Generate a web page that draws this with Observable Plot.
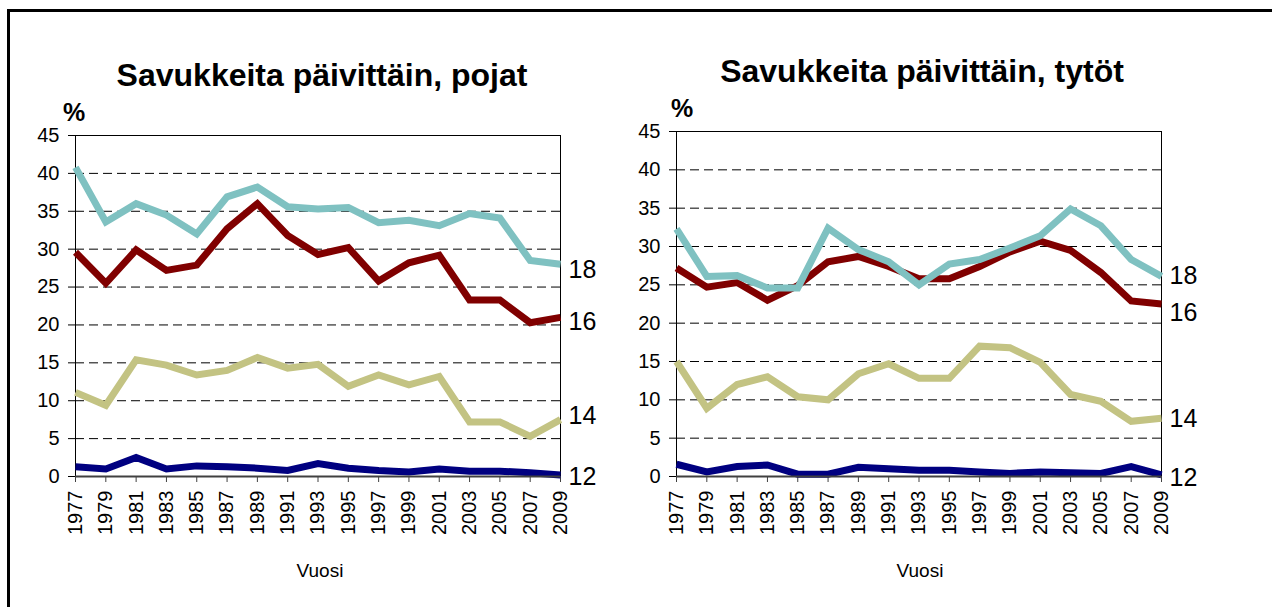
<!DOCTYPE html>
<html>
<head>
<meta charset="utf-8">
<script src="https://cdn.jsdelivr.net/npm/d3@7"></script>
<script src="https://cdn.jsdelivr.net/npm/@observablehq/plot@0.6"></script>
<style>
  html, body { margin: 0; padding: 0; background: #fff; }
  #wrap { position: relative; width: 1272px; height: 607px; overflow: hidden; background: #fff;
          font-family: Arial, "Liberation Sans", sans-serif; }
  .chart { position: absolute; top: 0; }
  .title { position: absolute; font-weight: bold; font-size: 32px; line-height: 37px; white-space: nowrap; transform: translateX(-50%); }
  .pct { position: absolute; font-weight: bold; font-size: 25px; line-height: 29px; }
  .xl { position: absolute; font-size: 19px; line-height: 22px; transform: translateX(-50%); }
  #frame { position: absolute; left: 7px; top: 9px; width: 1400px; height: 800px;
           border-left: 3px solid #000; border-top: 3px solid #000; pointer-events: none; }
</style>
</head>
<body>
<div id="wrap">
  <div id="left" class="chart" style="left:0px"></div>
  <div id="right" class="chart" style="left:600px"></div>
  <div class="title" style="left:322px; top:57px">Savukkeita päivittäin, pojat</div>
  <div class="title" style="left:922px; top:53px">Savukkeita päivittäin, tytöt</div>
  <div class="pct" style="left:63px; top:98px">%</div>
  <div class="pct" style="left:671px; top:94px">%</div>
  <div class="xl" style="left:320px; top:560px">Vuosi</div>
  <div class="xl" style="left:920px; top:560px">Vuosi</div>
  <div id="frame"></div>
</div>
<script>
const years = [1977,1979,1981,1983,1985,1987,1989,1991,1993,1995,1997,1999,2001,2003,2005,2007,2009];
const yTicks = [0,5,10,15,20,25,30,35,40,45];
const gridTicks = [5,10,15,20,25,30,35,40];
const ageLabels = ["12","14","16","18"];
const ageColors = ["#000080","#C3C383","#800000","#7FC1C1"];

// Boys (pojat)
const boys12 = [1.3,1.0,2.5,1.0,1.4,1.3,1.1,0.8,1.7,1.1,0.8,0.6,1.0,0.7,0.7,0.5,0.2];
const boys14 = [11.1,9.4,15.4,14.7,13.4,14.0,15.7,14.3,14.8,11.9,13.4,12.1,13.2,7.2,7.2,5.3,7.5];
const boys16 = [29.6,25.5,29.9,27.2,27.9,32.7,36.0,31.8,29.3,30.2,25.8,28.2,29.2,23.3,23.3,20.3,21.0];
const boys18 = [40.8,33.6,36.0,34.5,32.0,36.9,38.2,35.6,35.3,35.5,33.5,33.8,33.1,34.7,34.1,28.5,28.0];

// Girls (tytöt)
const girls12 = [1.6,0.6,1.3,1.5,0.3,0.3,1.2,1.0,0.8,0.8,0.6,0.4,0.6,0.5,0.4,1.3,0.2];
const girls14 = [15.0,8.9,12.0,13.0,10.4,10.0,13.4,14.7,12.8,12.8,17.0,16.8,14.9,10.7,9.8,7.2,7.6];
const girls16 = [27.2,24.7,25.3,23.0,24.9,28.0,28.7,27.4,25.8,25.8,27.4,29.3,30.7,29.5,26.6,22.9,22.5];
const girls18 = [32.3,26.1,26.2,24.6,24.6,32.4,29.6,28.0,25.0,27.7,28.3,29.8,31.4,34.9,32.7,28.3,26.1];

function makeChart(series, opts) {
  const font = "Arial, 'Liberation Sans', sans-serif";
  const lines = series.map((vals, k) =>
    Plot.line(years.map((yr, i) => ({year: yr, value: vals[i]})), {
      x: "year", y: "value", stroke: ageColors[k], strokeWidth: 7,
      strokeLinejoin: "miter", strokeMiterlimit: 3, strokeLinecap: "butt"
    }));
  const ends = series.map((vals, k) => ({year: years[years.length - 1], value: vals[vals.length - 1], label: ageLabels[k], k}));
  const endMarks = ends.map(e => Plot.text([e], {x: "year", y: "value", text: "label", dx: 8, dy: opts.labelDy[e.k],
                       textAnchor: "start", fontSize: 25, fill: "#000"}));
  return Plot.plot({
    width: opts.width, height: 607,
    marginLeft: opts.ml, marginRight: opts.mr, marginTop: opts.mt, marginBottom: 607 - 476,
    style: {fontFamily: font, fontSize: "20px", background: "transparent", color: "#000", overflow: "visible"},
    x: {type: "linear", domain: [1977, 2009]},
    y: {domain: [0, 45]},
    marks: [
      Plot.ruleY(gridTicks, {stroke: "#000", strokeWidth: 1, strokeDasharray: "9,5"}),
      Plot.ruleY([45], {stroke: "#000", strokeWidth: 1}),
      Plot.ruleX([2009], {stroke: "#000", strokeWidth: 1}),
      Plot.axisY({ticks: yTicks, tickSize: 7, tickPadding: 9, fontSize: 20, label: null, stroke: "#000"}),
      Plot.axisX({ticks: years, tickFormat: d => String(d), tickRotate: -90, tickSize: 6, tickPadding: 8,
                  fontSize: 20, label: null, stroke: "#404040"}),
      Plot.ruleX([1977], {stroke: "#000", strokeWidth: 1}),
      ...lines,
      Plot.ruleY([0], {stroke: "#404040", strokeWidth: 2}),
      ...endMarks
    ]
  });
}

document.getElementById("left").appendChild(
  makeChart([boys12, boys14, boys16, boys18], {width: 600, ml: 75, mr: 40, mt: 135, labelDy: [2, -4, 5, 6]}));
document.getElementById("right").appendChild(
  makeChart([girls12, girls14, girls16, girls18], {width: 672, ml: 76, mr: 111, mt: 131, labelDy: [3, 1, 9, 0]}));
</script>
</body>
</html>
